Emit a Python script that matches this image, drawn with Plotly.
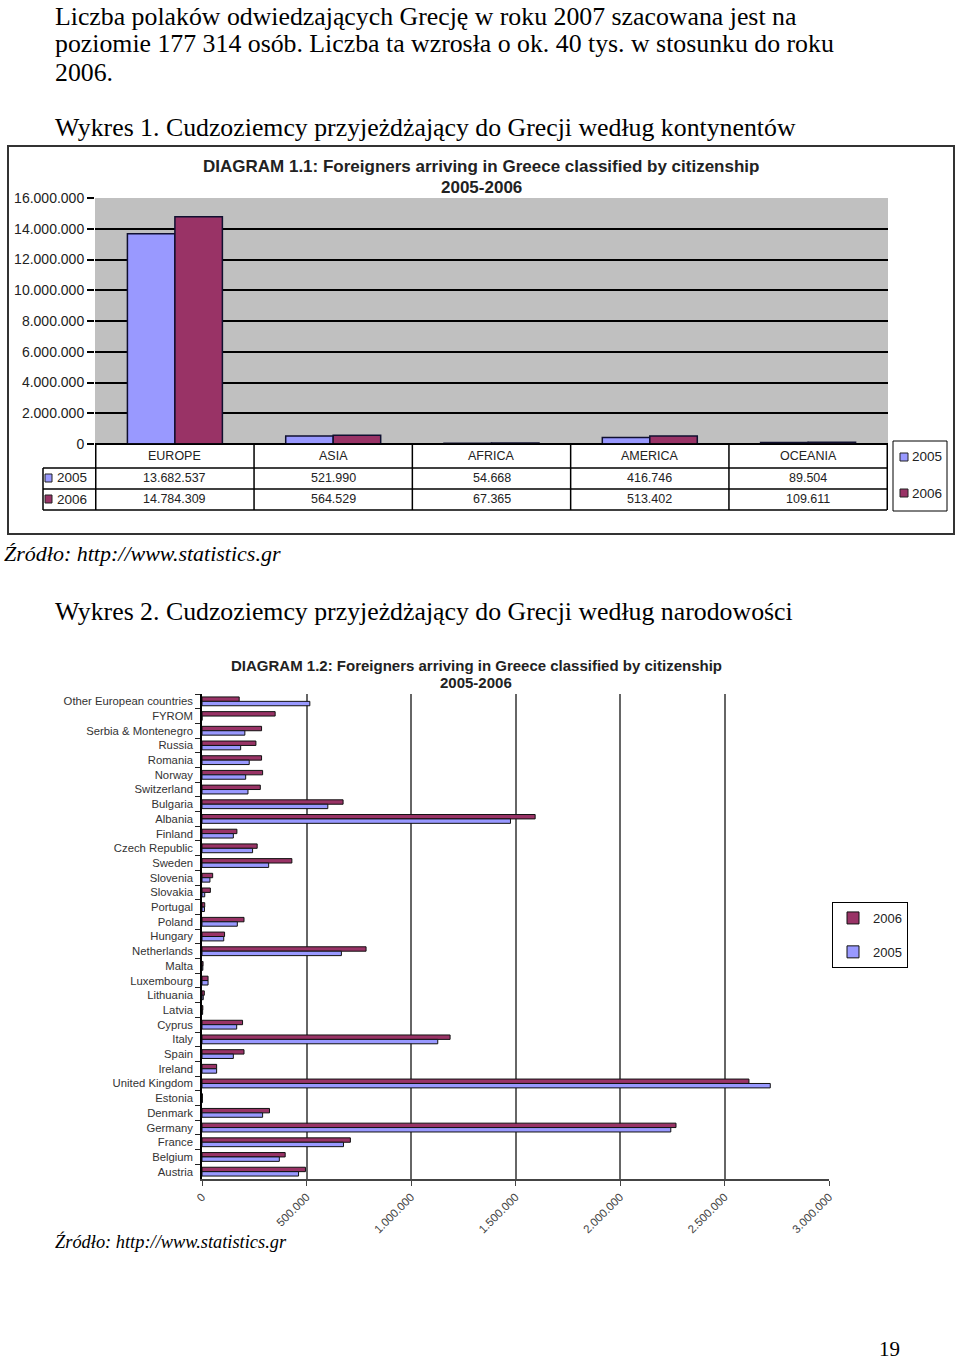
import plotly.graph_objects as go

W, H = 960.0, 1365.0
def PX(p):
    return p / W
def PY(p):
    return 1 - p / H

# ---------------- data ----------------
continents = ["EUROPE", "ASIA", "AFRICA", "AMERICA", "OCEANIA"]
cont_2005 = [13682537, 521990, 54668, 416746, 89504]
cont_2006 = [14784309, 564529, 67365, 513402, 109611]
y1_ticks = [0, 2000000, 4000000, 6000000, 8000000, 10000000, 12000000, 14000000, 16000000]

countries = ["Other European countries", "FYROM", "Serbia & Montenegro", "Russia", "Romania",
             "Norway", "Switzerland", "Bulgaria", "Albania", "Finland", "Czech Republic",
             "Sweden", "Slovenia", "Slovakia", "Portugal", "Poland", "Hungary", "Netherlands",
             "Malta", "Luxembourg", "Lithuania", "Latvia", "Cyprus", "Italy", "Spain",
             "Ireland", "United Kingdom", "Estonia", "Denmark", "Germany", "France",
             "Belgium", "Austria"]
nat_2006 = [178000, 350000, 285000, 258000, 285000, 290000, 279000, 675000, 1594000, 167000,
            264000, 430000, 51000, 40000, 13000, 201000, 108000, 785000, 5000, 29000, 11000,
            4000, 194000, 1187000, 201000, 70000, 2617000, 2000, 323000, 2268000, 710000,
            398000, 495000]
nat_2005 = [516000, 0, 205000, 185000, 226000, 209000, 220000, 602000, 1476000, 150000,
            242000, 319000, 38000, 13000, 12000, 169000, 104000, 667000, 4000, 29000, 6000,
            3000, 166000, 1128000, 150000, 70000, 2719000, 2000, 290000, 2243000, 677000,
            370000, 462000]
x2_ticks = [0, 500000, 1000000, 1500000, 2000000, 2500000, 3000000]

C2005 = "#9999FF"
C2006 = "#993366"
SANS = "Liberation Sans, Arial, sans-serif"
SERIF = "Liberation Serif, Times New Roman, serif"

def fmt(v):
    return f"{v:,}".replace(",", ".")

fig = go.Figure()

# ---------------- chart 1 ----------------
fig.add_trace(go.Bar(x=continents, y=cont_2005, name="2005", marker_color=C2005,
                     marker_line=dict(color="#101030", width=1.5), showlegend=False,
                     xaxis="x", yaxis="y"))
fig.add_trace(go.Bar(x=continents, y=cont_2006, name="2006", marker_color=C2006,
                     marker_line=dict(color="#101030", width=1.5), showlegend=False,
                     xaxis="x", yaxis="y"))

# ---------------- chart 2 ----------------
fig.add_trace(go.Bar(y=countries, x=nat_2006, name="2006", orientation="h",
                     marker_color=C2006, marker_line=dict(color="#111", width=1),
                     legendgroup="a", xaxis="x2", yaxis="y2"))
fig.add_trace(go.Bar(y=countries, x=nat_2005, name="2005", orientation="h",
                     marker_color=C2005, marker_line=dict(color="#111", width=1),
                     legendgroup="b", xaxis="x2", yaxis="y2"))

shapes = []
annotations = []

def text(x, y, s, size, family=SERIF, color="#000", anchor="left", **kw):
    annotations.append(dict(x=PX(x), y=PY(y), xref="paper", yref="paper", text=s,
                            showarrow=False, xanchor=anchor, yanchor="middle",
                            font=dict(size=size, family=family, color=color), **kw))

def line(x0, y0, x1, y1, color="#000", width=1.5):
    shapes.append(dict(type="line", xref="paper", yref="paper", x0=PX(x0), y0=PY(y0),
                       x1=PX(x1), y1=PY(y1), line=dict(color=color, width=width)))

def rect(x0, y0, x1, y1, fill=None, color="#000", width=1, layer="above"):
    shapes.append(dict(type="rect", xref="paper", yref="paper", x0=PX(x0), y0=PY(y0),
                       x1=PX(x1), y1=PY(y1), fillcolor=fill or "rgba(0,0,0,0)",
                       line=dict(color=color, width=width), layer=layer))

# page text
BODY = 25.8
text(53, 17, "Liczba polaków odwiedzających Grecję w roku 2007 szacowana jest na", BODY)
text(53, 44, "poziomie 177 314 osób. Liczba ta wzrosła o ok. 40 tys. w stosunku do roku", BODY)
text(53, 72, "2006.", BODY)
text(53, 127, "Wykres 1. Cudzoziemcy przyjeżdżający do Grecji według kontynentów", BODY)
text(2, 553, "<i>Źródło: http://www.statistics.gr</i>", 22)
text(53, 611, "Wykres 2. Cudzoziemcy przyjeżdżający do Grecji według narodowości", BODY)
text(53, 1241, "<i>Źródło: http://www.statistics.gr</i>", 18.4)
text(889, 1349, "19", 21, anchor="center")

# chart 1 frame and titles
rect(8, 146, 954, 534, color="#333", width=2)
text(481, 166, "<b>DIAGRAM 1.1: Foreigners arriving in Greece classified by citizenship</b>", 17,
     family=SANS, color="#222", anchor="center")
text(481, 188, "<b>2005-2006</b>", 17, family=SANS, color="#222", anchor="center")

# gray plot area
shapes.append(dict(type="rect", xref="x domain", yref="y domain", x0=0, x1=1, y0=0, y1=1,
                   fillcolor="#C0C0C0", line=dict(width=0), layer="below"))

# data table under chart 1
for yy in (468, 489, 510):
    line(43, yy, 887, yy)
line(95, 444, 887, 444)
line(43, 468, 43, 510)
for i in range(len(continents) + 1):
    shapes.append(dict(type="line", xref="x", yref="paper", x0=i - 0.5, x1=i - 0.5,
                       y0=PY(444), y1=PY(510), line=dict(color="#000", width=1.5)))
for i, c in enumerate(continents):
    annotations.append(dict(x=c, y=PY(456), xref="x", yref="paper", text=c, showarrow=False,
                            font=dict(size=12.5, family=SANS, color="#222")))
    annotations.append(dict(x=c, y=PY(478), xref="x", yref="paper", text=fmt(cont_2005[i]),
                            showarrow=False, font=dict(size=12.5, family=SANS, color="#222")))
    annotations.append(dict(x=c, y=PY(499), xref="x", yref="paper", text=fmt(cont_2006[i]),
                            showarrow=False, font=dict(size=12.5, family=SANS, color="#222")))
rect(45, 474, 52, 482, fill=C2005, color="#222")
rect(45, 495, 52, 503, fill=C2006, color="#222")
text(55, 478, "2005", 13.5, family=SANS, color="#222")
text(55, 499, "2006", 13.5, family=SANS, color="#222")

# legend of chart 1
rect(893, 441, 947, 511, fill="#fff", color="#000", width=1)
rect(900, 453, 908, 461, fill=C2005, color="#222")
rect(900, 489, 908, 497, fill=C2006, color="#222")
text(910, 457, "2005", 13.5, family=SANS, color="#222")
text(910, 493, "2006", 13.5, family=SANS, color="#222")

# chart 2 titles
text(476, 665, "<b>DIAGRAM 1.2: Foreigners arriving in Greece classified by citizenship</b>", 15,
     family=SANS, color="#222", anchor="center")
text(476, 682, "<b>2005-2006</b>", 15, family=SANS, color="#222", anchor="center")

fig.update_layout(
    width=960, height=1365, autosize=False,
    margin=dict(l=0, r=0, t=0, b=0, autoexpand=False),
    paper_bgcolor="#ffffff", plot_bgcolor="rgba(0,0,0,0)",
    separators=",.",
    barmode="group", bargap=0.4, bargroupgap=0,
    showlegend=True,
    legend=dict(x=PX(832), y=PY(902), xanchor="left", yanchor="top",
                bordercolor="#000", borderwidth=1, bgcolor="#fff",
                font=dict(size=13, family=SANS, color="#222"),
                tracegroupgap=14, itemwidth=30),
    xaxis=dict(domain=[PX(95), PX(888)], showticklabels=False, ticks="", automargin=False,
               showgrid=False, showline=False, zeroline=False, fixedrange=True),
    yaxis=dict(domain=[PY(444), PY(198)], range=[0, 16000000], tickvals=y1_ticks,
               tickformat=",d", showgrid=True, gridcolor="#000", gridwidth=1.5,
               zeroline=True, zerolinecolor="#000", zerolinewidth=1.5, automargin=False,
               ticks="outside", ticklen=7, tickcolor="#000", tickwidth=1.5,
               showline=False, tickfont=dict(size=14, family=SANS, color="#222")),
    xaxis2=dict(domain=[PX(202), PX(829)], anchor="y2", range=[0, 3000000],
                tickvals=x2_ticks, tickformat=",d", tickangle=-45, automargin=False,
                showgrid=True, gridcolor="#666", gridwidth=1.5,
                zeroline=False, showline=True, linecolor="#444", linewidth=1.5,
                ticks="outside", ticklen=5, tickcolor="#444",
                tickfont=dict(size=11.5, family=SANS, color="#444")),
    yaxis2=dict(domain=[PY(1179), PY(694)], anchor="x2", type="category",
                categoryorder="array", categoryarray=countries, autorange="reversed",
                showline=True, linecolor="#000", linewidth=1.5, automargin=False,
                ticks="outside", tickson="boundaries", ticklen=5, tickcolor="#222",
                showgrid=False, ticklabelstandoff=5,
                tickfont=dict(size=11.3, family=SANS, color="#333")),
    shapes=shapes, annotations=annotations,
)

fig.write_html(
    "out.html",
    config={"displayModeBar": False},
    post_script=(
        "document.body.style.margin='0';document.body.style.padding='0';"
        "document.body.style.overflow='hidden';"
    ),
)
